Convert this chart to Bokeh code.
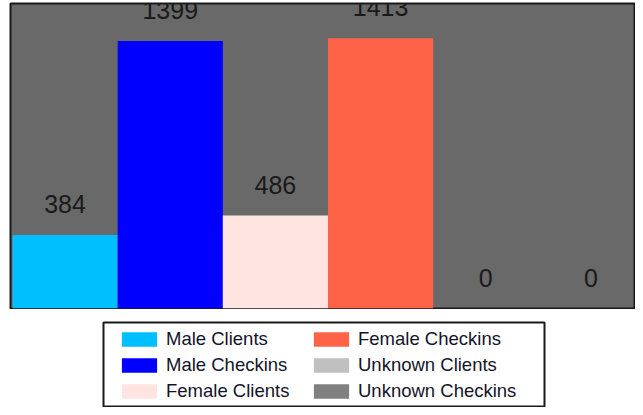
from bokeh.plotting import figure
from bokeh.layouts import column
from bokeh.models import ColumnDataSource, Range1d, Legend, LegendItem, LabelSet
from bokeh.core.properties import value
from bokeh.embed import file_html
from bokeh.resources import INLINE

categories = ["Male Clients", "Male Checkins", "Female Clients",
              "Female Checkins", "Unknown Clients", "Unknown Checkins"]
values = [384, 1399, 486, 1413, 0, 0]
colors = ["#00BFFF", "#0000FF", "#FFE4E1", "#FF6347", "#C0C0C0", "#808080"]

positions = [i + 0.5 for i in range(len(categories))]
src = ColumnDataSource(dict(x=positions, top=values, color=colors,
                            label=[str(v) for v in values], cat=categories))

# main bar chart
p = figure(width=635, height=309, output_backend="svg", toolbar_location=None,
           x_range=Range1d(-0.019, 5.924), y_range=Range1d(0, 1595),
           x_axis_type=None, y_axis_type=None,
           min_border_left=10, min_border_right=0, min_border_top=3,
           min_border_bottom=1)
p.frame_align = False
p.background_fill_color = "#696969"
p.border_fill_color = "white"
p.outline_line_color = "#1a1a1a"
p.outline_line_width = 2

r = p.vbar(x="x", top="top", width=1, bottom=0, fill_color="color",
           line_color=None, source=src)

labels = LabelSet(x="x", y="top", text="label", source=src,
                  text_align="center", text_baseline="alphabetic", y_offset=22,
                  text_font_size=value("25px"), text_font=value("Liberation Sans"),
                  text_color="#1a1a1a")
p.add_layout(labels)

# legend panel (its frame is the legend box)
p2 = figure(width=635, height=98, output_backend="svg", toolbar_location=None,
            x_range=Range1d(0, 6), y_range=Range1d(5000, 6000),
            x_axis_type=None, y_axis_type=None,
            min_border_left=103, min_border_right=91, min_border_top=13,
            min_border_bottom=0)
p2.frame_align = False
p2.background_fill_color = "white"
p2.border_fill_color = "white"
p2.outline_line_color = "#1a1a1a"
p2.outline_line_width = 2
r2 = p2.vbar(x="x", top="top", width=1, bottom=0, fill_color="color",
             line_color=None, source=src)

items = [LegendItem(label=c, renderers=[r2], index=i) for i, c in enumerate(categories)]
legend = Legend(items=items, location=(14, 5), orientation="vertical", nrows=3,
                border_line_color=None, background_fill_alpha=0.0,
                padding=0, spacing=4, glyph_width=44, glyph_height=18,
                label_height=20, label_width=139, label_standoff=5,
                label_text_font_size="18.5px", label_text_font="Liberation Sans",
                label_text_color="#141428", margin=0)
p2.add_layout(legend)

layout = column(p, p2, spacing=0)
open("out.html", "w").write(file_html(layout, INLINE))
